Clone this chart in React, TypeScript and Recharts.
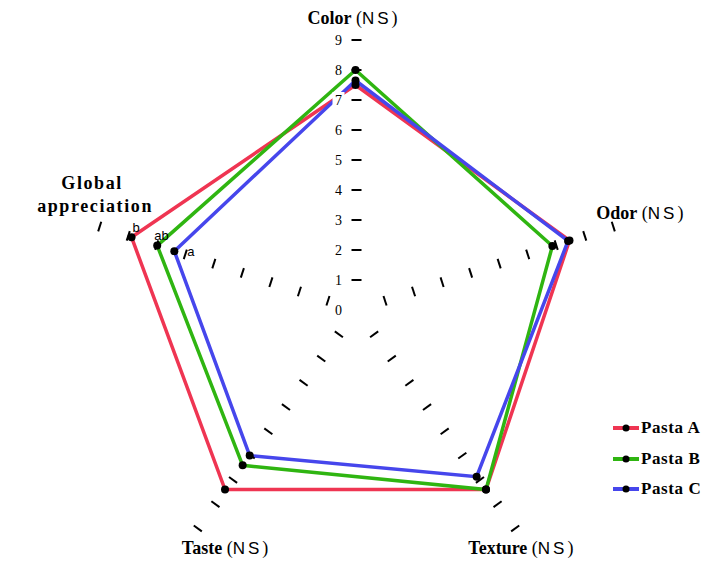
import React from "react";
import {
  RadarChart,
  Radar,
  PolarAngleAxis,
  PolarRadiusAxis,
  Legend,
} from "recharts";

// ── Data ─────────────────────────────────────────────────────────────────────

const ATTRIBUTES = ["Color", "Odor", "Texture", "Taste", "Global appreciation"];
const SIGNIFICANCE = ["NS", "NS", "NS", "NS", ""];
const PASTA_A = [7.5, 7.5, 7.4, 7.4, 7.85];
const PASTA_B = [8.0, 6.9, 7.4, 6.4, 6.95];
const PASTA_C = [7.65, 7.45, 6.87, 6.0, 6.35];
const GLOBAL_LETTERS = ["b", "ab", "a"];
const SCALE_TICKS = [0, 1, 2, 3, 4, 5, 6, 7, 8, 9];

const data = ATTRIBUTES.map((attr, i) => ({
  attr,
  sig: SIGNIFICANCE[i],
  a: PASTA_A[i],
  b: PASTA_B[i],
  c: PASTA_C[i],
}));

// ── Styling ──────────────────────────────────────────────────────────────────

const SERIF = "'Liberation Serif', 'DejaVu Serif', serif";
const SANS = "'Liberation Sans', Arial, sans-serif";
const COLORS = ["#ef3552", "#2fb511", "#4646ec"];
const CX = 355.5;
const CY = 310;
const SPOKE_ANGLES = [90, 18, -54, -126, -198];

// nudges for angle-axis labels, relative to the library's tick point
const LABEL_NUDGE: [number, number][] = [
  [-3, -8],
  [20, -5],
  [2, 19],
  [33, 19],
  [1, -35],
];

// letter offsets next to the Global appreciation points
const LETTER_NUDGE: [number, number][] = [
  [1, -5],
  [-3, -6],
  [13, 5],
];

// ── Ticks ────────────────────────────────────────────────────────────────────

// The radius axis sits on the Color spoke; each tick also marks the same
// radius on the other four spokes with a short perpendicular dash.
function DashTick(props: any) {
  const { x, y, payload } = props;
  const r = CY - y;
  return (
    <g>
      {payload.value > 0 &&
        SPOKE_ANGLES.map((a) => {
          const rad = (a * Math.PI) / 180;
          const sx = CX + r * Math.cos(rad);
          const sy = CY - r * Math.sin(rad);
          const px = Math.sin(rad) * 5;
          const py = Math.cos(rad) * 5;
          return (
            <line
              key={a}
              x1={sx - px + 1}
              y1={sy - py}
              x2={sx + px + 1}
              y2={sy + py}
              stroke="#000"
              strokeWidth={2}
            />
          );
        })}
      <rect x={x - 23} y={y - 8} width={12} height={15} fill="#fff" />
      <text
        x={x - 17}
        y={y + 5}
        textAnchor="middle"
        fontFamily={SERIF}
        fontSize={14}
        fill="#000"
      >
        {payload.value}
      </text>
    </g>
  );
}

function AngleTick(props: any) {
  const { x, y, payload, index } = props;
  const [dx, dy] = LABEL_NUDGE[index] ?? [0, 0];
  const sig = SIGNIFICANCE[index];
  const name: string = payload.value;
  if (name === "Global appreciation") {
    return (
      <text
        x={x + dx}
        y={y + dy}
        textAnchor="middle"
        fontFamily={SERIF}
        fontWeight="bold"
        fontSize={18}
        letterSpacing={1.6}
        fill="#000"
      >
        <tspan x={x + dx} dy={0}>Global</tspan>
        <tspan x={x + dx + 3} dy={23}>appreciation</tspan>
      </text>
    );
  }
  return (
    <text
      x={x + dx}
      y={y + dy}
      textAnchor="middle"
      fontFamily={SERIF}
      fontSize={18}
      fill="#000"
    >
      <tspan fontWeight="bold">{name}</tspan>
      <tspan> (</tspan>
      <tspan fontFamily={SANS} fontSize={17} letterSpacing={3}>
        {sig}
      </tspan>
      <tspan>)</tspan>
    </text>
  );
}

function makeDot(series: number) {
  return (props: any) => {
    const { cx, cy, index } = props;
    const [lx, ly] = LETTER_NUDGE[series];
    return (
      <g key={`dot-${series}-${index}`}>
        <circle cx={cx} cy={cy} r={4} fill="#000" />
        {index === 4 && (
          <text
            x={cx + lx}
            y={cy + ly}
            fontFamily={SANS}
            fontSize={13}
            fill="#000"
          >
            {GLOBAL_LETTERS[series]}
          </text>
        )}
      </g>
    );
  };
}

// ── Legend ───────────────────────────────────────────────────────────────────

function LegendContent(props: any) {
  const items = props.payload ?? [];
  return (
    <div>
      {items.map((it: any) => (
        <div
          key={it.value}
          style={{ display: "flex", alignItems: "center", height: 30.5 }}
        >
          <svg width={28} height={10}>
            <line x1={0} y1={5} x2={26} y2={5} stroke={it.color} strokeWidth={4} />
            <circle cx={13} cy={5} r={3.5} fill="#000" />
          </svg>
          <span
            style={{
              fontFamily: SERIF,
              fontWeight: "bold",
              fontSize: 17,
              letterSpacing: 0.6,
              color: "#000",
            }}
          >
            {it.value}
          </span>
        </div>
      ))}
    </div>
  );
}

// ── Main ─────────────────────────────────────────────────────────────────────

export default function App() {
  return (
    <div style={{ position: "absolute", left: 0, top: 0, width: 706, height: 564, background: "#fff" }}>
      <RadarChart
        width={706}
        height={564}
        data={data}
        cx={CX}
        cy={CY}
        outerRadius={270}
        startAngle={90}
        endAngle={-270}
      >
        <PolarAngleAxis
          dataKey="attr"
          axisLine={false}
          tickLine={false}
          tick={(p: any) => <AngleTick {...p} />}
        />
        <Radar
          name="Pasta A"
          dataKey="a"
          stroke={COLORS[0]}
          strokeWidth={3.5}
          fill="none"
          fillOpacity={0}
          dot={makeDot(0)}
          isAnimationActive={false}
        />
        <Radar
          name="Pasta B"
          dataKey="b"
          stroke={COLORS[1]}
          strokeWidth={3.5}
          fill="none"
          fillOpacity={0}
          dot={makeDot(1)}
          isAnimationActive={false}
        />
        <Radar
          name="Pasta C"
          dataKey="c"
          stroke={COLORS[2]}
          strokeWidth={3.5}
          fill="none"
          fillOpacity={0}
          dot={makeDot(2)}
          isAnimationActive={false}
        />
        <PolarRadiusAxis
          angle={90}
          type="number"
          domain={[0, 9]}
          ticks={SCALE_TICKS}
          tickCount={10}
          axisLine={false}
          tick={(p: any) => <DashTick {...p} />}
        />
        <Legend
          layout="vertical"
          verticalAlign="top"
          align="left"
          wrapperStyle={{ position: "absolute", left: 613, top: 413, width: 95 }}
          content={(p: any) => <LegendContent {...p} />}
        />
      </RadarChart>
    </div>
  );
}
